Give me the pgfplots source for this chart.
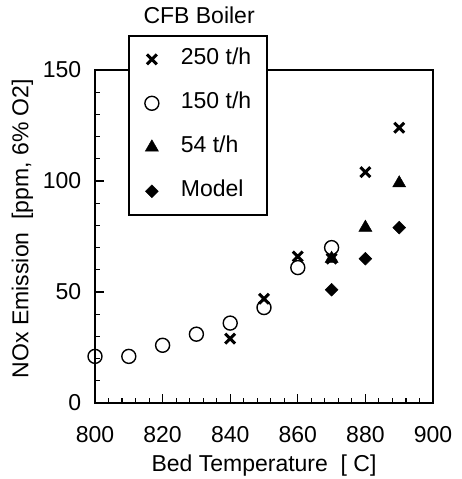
\documentclass[border=0pt]{standalone}
\usepackage{fontspec}
\setmainfont{Liberation Sans}
\usepackage{pgfplots}
\pgfplotsset{compat=1.18}
\newcommand{\lbl}{\fontsize{23}{27}\selectfont}
\begin{document}
\lbl
\begin{tikzpicture}
% fixed page frame around the axis box (axis box spans 338pt x 333pt from the origin)
\path[use as bounding box] (-95pt,-76pt) rectangle (366pt,403pt);
\begin{axis}[
  scale only axis, width=338pt, height=333pt,
  xmin=800, xmax=900, ymin=0, ymax=150,
  axis line style={line width=1.6pt},
  xtick={800,820,...,900}, ytick={0,50,100,150},
  minor x tick num=4, minor y tick num=4,
  tick align=inside, xtick pos=bottom, ytick pos=left,
  major tick length=9pt, minor tick length=5pt,
  every tick/.style={line width=1.1pt, black},
  /pgf/number format/assume math mode=true,
  /pgf/number format/1000 sep={},
  tick label style={font=\lbl},
  xticklabel style={yshift=-16pt},
  yticklabel style={xshift=-6pt},
  xlabel={Bed Temperature\ \ [ C]},
  ylabel={NOx Emission\ \ [ppm, 6\% O2]},
  label style={font=\lbl},
  xlabel style={yshift=4pt},
  ylabel style={yshift=-6pt, xshift=8pt},
  legend cell align=left,
  legend style={at={(0.098,1.105)}, anchor=north west, fill=white,
    draw=black, line width=1.5pt, font=\lbl,
    nodes={inner sep=0pt, text height=16pt, text depth=5pt},
    column sep=22pt, row sep=23pt, inner xsep=16pt, inner ysep=13pt},
  clip=false,
]
\addplot[only marks, mark=x, mark size=7pt, mark options={line width=3pt, black}]
  coordinates {(840,29) (850,47) (860,66) (870,65) (880,104) (890,124)};
\addlegendentry{250 t/h}
\addplot[only marks, mark=o, mark size=7pt, mark options={line width=1.4pt, black, fill=none}]
  coordinates {(800,21) (810,21) (820,26) (830,31) (840,36) (850,43) (860,61) (870,70)};
\addlegendentry{150 t/h}
\addplot[only marks, mark=triangle*, mark size=7.5pt, mark options={line width=0.5pt, black, fill=black}]
  coordinates {(870,65) (880,79) (890,99)};
\addlegendentry{54 t/h}
\addplot[only marks, mark=square*, mark size=4.5pt, mark options={rotate=45, line width=0.5pt, black, fill=black}]
  coordinates {(870,51) (880,65) (890,79)};
\addlegendentry{Model}
\node[font=\lbl] at (rel axis cs:0.308,1.165) {CFB Boiler};
\end{axis}
\end{tikzpicture}
\end{document}
